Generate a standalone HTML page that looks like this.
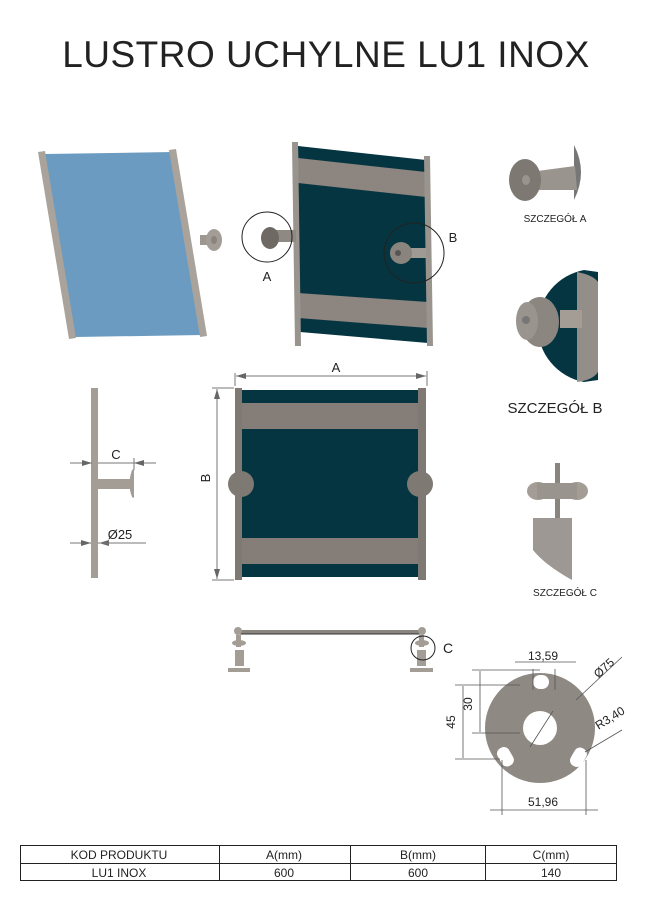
<!DOCTYPE html>
<html><head><meta charset="utf-8"><style>
html,body{margin:0;padding:0;background:#fff}
svg{display:block}
text{font-family:"Liberation Sans",sans-serif;fill:#222}
</style></head><body>
<svg width="649" height="901" viewBox="0 0 649 901" xmlns="http://www.w3.org/2000/svg">
<defs>
<marker id="ar" markerWidth="10" markerHeight="6" refX="10" refY="3" orient="auto-start-reverse"><path d="M0,0 L10,3 L0,6z" fill="#666"/></marker>
</defs>
<text x="326" y="67" text-anchor="middle" font-size="37" style="letter-spacing:0.5px" fill="#111">LUSTRO UCHYLNE  LU1 INOX</text>

<!-- blue mirror -->
<polygon points="45,154 173,152 203,335 75,337" fill="#6b9bc0"/>
<polygon points="38,152 45,151 76,338 69,339" fill="#a9a39c"/>
<polygon points="169,150 176,149 207,336 200,337" fill="#a9a39c"/>
<rect x="200" y="235" width="14" height="10" fill="#9d9790"/>
<ellipse cx="214" cy="240" rx="8" ry="11" fill="#a39d96"/>
<ellipse cx="214" cy="240" rx="3" ry="4" fill="#8a847e"/>

<!-- dark panel iso -->
<polygon points="298,146 426,160 428,343 300,332" fill="#053540"/>
<polygon points="298,158 426,172 426,197 298,183" fill="#8c8580"/>
<polygon points="298,293 428,302 428,328 298,318" fill="#8c8580"/>
<polygon points="292,142 298,142 301,346 295,346" fill="#9a948e"/>
<polygon points="424,156 430,156 433,346 427,346" fill="#9a948e"/>
<rect x="272" y="230" width="24" height="12" fill="#8f8984"/>
<ellipse cx="270" cy="238" rx="9" ry="11" fill="#6f6964"/>
<circle cx="267" cy="237" r="25" fill="none" stroke="#222" stroke-width="1"/>
<text x="267" y="281" text-anchor="middle" font-size="13">A</text>
<rect x="404" y="248" width="22" height="10" fill="#a09a94"/>
<circle cx="401" cy="253" r="11" fill="#8a847e"/>
<circle cx="398" cy="253" r="3" fill="#555"/>
<circle cx="414" cy="253" r="30" fill="none" stroke="#222" stroke-width="1"/>
<text x="453" y="242" text-anchor="middle" font-size="13">B</text>

<!-- detail A -->
<path d="M574,145 Q588,172 574,200 Z" fill="#777"/>
<polygon points="530,172 575,166 577,190 530,190" fill="#9a948e"/>
<ellipse cx="525" cy="180" rx="16" ry="21" fill="#7e7873"/>
<ellipse cx="526" cy="180" rx="4" ry="5" fill="#9a948e"/>
<text x="555" y="222" text-anchor="middle" font-size="10">SZCZEGÓŁ A</text>

<!-- detail B -->
<path d="M584,270 L598,272 L598,380 L584,382 A57,57 0 0 1 584,270 Z" fill="#053540"/>
<path d="M577,272 Q593,275 598,282 L598,372 Q593,380 577,382 Z" fill="#948e88"/>
<rect x="560" y="310" width="22" height="18" fill="#a39d96"/>
<ellipse cx="540" cy="322" rx="19" ry="25" fill="#8c8680"/>
<ellipse cx="527" cy="321" rx="11" ry="19" fill="#9a948e"/>
<circle cx="526" cy="320" r="4" fill="#777"/>
<text x="555" y="413" text-anchor="middle" font-size="15">SZCZEGÓŁ B</text>

<!-- detail C -->
<rect x="555" y="463" width="5" height="65" fill="#8a847e"/>
<ellipse cx="538" cy="491" rx="11" ry="9" fill="#a39d96"/>
<ellipse cx="577" cy="491" rx="11" ry="9" fill="#a39d96"/>
<rect x="537" y="483" width="40" height="16" fill="#9a948e"/>
<path d="M533,518 L572,518 L572,580 Q545,565 533,550 Z" fill="#9d9893"/>
<text x="565" y="596" text-anchor="middle" font-size="10">SZCZEGÓŁ C</text>

<!-- side view -->
<rect x="91" y="388" width="7" height="190" fill="#a39d96"/>
<rect x="98" y="479" width="34" height="10" fill="#a39d96"/>
<path d="M132,470 L134,469 L134,498 L132,497 Q127,484 132,470Z" fill="#a39d96"/>
<line x1="70" y1="463" x2="92" y2="463" stroke="#777" marker-end="url(#ar)"/>
<line x1="156" y1="463" x2="134" y2="463" stroke="#777" marker-end="url(#ar)"/>
<line x1="98" y1="463" x2="134" y2="463" stroke="#777"/>
<line x1="134" y1="458" x2="134" y2="470" stroke="#777"/>
<text x="116" y="459" text-anchor="middle" font-size="13" fill="#555">C</text>
<line x1="70" y1="543" x2="91" y2="543" stroke="#777" marker-end="url(#ar)"/>
<line x1="120" y1="543" x2="99" y2="543" stroke="#777" marker-end="url(#ar)"/>
<line x1="98" y1="543" x2="146" y2="543" stroke="#777"/>
<text x="120" y="539" text-anchor="middle" font-size="13" fill="#555">Ø25</text>

<!-- front view -->
<rect x="242" y="390" width="176" height="187" fill="#053540"/>
<rect x="242" y="403" width="176" height="26" fill="#847d78"/>
<rect x="242" y="538" width="176" height="26" fill="#847d78"/>
<rect x="235" y="388" width="7" height="192" fill="#7f7974"/>
<rect x="418" y="388" width="8" height="192" fill="#7f7974"/>
<circle cx="241" cy="484" r="13" fill="#7f7974"/>
<circle cx="420" cy="484" r="13" fill="#7f7974"/>
<line x1="235" y1="373" x2="235" y2="386" stroke="#777"/>
<line x1="427" y1="371" x2="427" y2="386" stroke="#777"/>
<line x1="236" y1="376" x2="426" y2="376" stroke="#777" marker-start="url(#ar)" marker-end="url(#ar)"/>
<text x="336" y="372" text-anchor="middle" font-size="13" fill="#555">A</text>
<line x1="212" y1="388" x2="234" y2="388" stroke="#777"/>
<line x1="212" y1="580" x2="234" y2="580" stroke="#777"/>
<line x1="217" y1="389" x2="217" y2="579" stroke="#777" marker-start="url(#ar)" marker-end="url(#ar)"/>
<text x="212" y="480" text-anchor="middle" font-size="13" fill="#555" transform="rotate(-90 210 480)">B</text>

<!-- bottom view -->
<rect x="238" y="630" width="185" height="4" fill="#8a847e"/>
<line x1="238" y1="634" x2="423" y2="634" stroke="#333" stroke-width="1"/>
<circle cx="238" cy="631" r="4" fill="#a39d96"/>
<circle cx="422" cy="631" r="4" fill="#a39d96"/>
<g fill="#a39d96">
<rect x="236" y="635" width="5" height="12"/><ellipse cx="239" cy="643" rx="7" ry="3"/>
<rect x="235" y="650" width="9" height="16"/><path d="M228,672 Q238,664 250,672 Z"/><rect x="228" y="668" width="22" height="4"/>
<rect x="419" y="635" width="5" height="12"/><ellipse cx="422" cy="643" rx="7" ry="3"/>
<rect x="417" y="650" width="9" height="16"/><path d="M410,672 Q421,664 433,672 Z"/><rect x="410" y="668" width="23" height="4"/>
</g>
<circle cx="423" cy="648" r="12" fill="none" stroke="#222"/>
<text x="448" y="653" text-anchor="middle" font-size="14">C</text>

<!-- plate -->
<circle cx="540" cy="728" r="55" fill="#8f8984"/>
<circle cx="540" cy="728" r="17" fill="#fff"/>
<rect x="533" y="675" width="16" height="14" rx="7" fill="#fff"/>
<rect x="499" y="747" width="13" height="20" rx="6" fill="#fff" transform="rotate(-30 505 757)"/>
<rect x="572" y="747" width="13" height="20" rx="6" fill="#fff" transform="rotate(30 578 757)"/>
<g stroke="#555" stroke-width="0.8" fill="none">
<line x1="533" y1="669" x2="533" y2="690"/><line x1="555" y1="669" x2="555" y2="690"/>
<line x1="515" y1="662" x2="576" y2="662"/>
<line x1="530" y1="747" x2="553" y2="711"/>
<line x1="576" y1="700" x2="622" y2="657"/>
<line x1="585" y1="752" x2="622" y2="730"/>
<line x1="455" y1="685" x2="520" y2="685"/><line x1="455" y1="759" x2="500" y2="759"/>
<line x1="472" y1="670" x2="540" y2="670"/><line x1="472" y1="733" x2="520" y2="733"/>
<line x1="463" y1="686" x2="463" y2="758"/><line x1="480" y1="671" x2="480" y2="732"/>
<line x1="502" y1="760" x2="502" y2="815"/><line x1="586" y1="760" x2="586" y2="815"/>
<line x1="490" y1="810" x2="598" y2="810"/>
</g>
<text x="543" y="660" text-anchor="middle" font-size="12" fill="#333">13,59</text>
<text x="604" y="672" text-anchor="middle" font-size="12" fill="#444" transform="rotate(-42 604 668)">Ø75</text>
<text x="610" y="722" text-anchor="middle" font-size="12" fill="#444" transform="rotate(-32 610 718)">R3,40</text>
<text x="455" y="722" text-anchor="middle" font-size="12" fill="#444" transform="rotate(-90 455 722)">45</text>
<text x="472" y="704" text-anchor="middle" font-size="12" fill="#444" transform="rotate(-90 472 704)">30</text>
<text x="543" y="806" text-anchor="middle" font-size="12" fill="#444">51,96</text>

<!-- table -->
<g stroke="#222" stroke-width="1" fill="none">
<rect x="20.5" y="845.5" width="596" height="35"/>
<line x1="20" y1="863.5" x2="617" y2="863.5"/>
<line x1="219.5" y1="845" x2="219.5" y2="881"/>
<line x1="350.5" y1="845" x2="350.5" y2="881"/>
<line x1="485.5" y1="845" x2="485.5" y2="881"/>
</g>
<g font-size="12" text-anchor="middle">
<text x="119" y="859">KOD PRODUKTU</text><text x="284" y="859">A(mm)</text><text x="418" y="859">B(mm)</text><text x="551" y="859">C(mm)</text>
<text x="119" y="877">LU1 INOX</text><text x="284" y="877">600</text><text x="418" y="877">600</text><text x="551" y="877">140</text>
</g>
</svg>
</body></html>
